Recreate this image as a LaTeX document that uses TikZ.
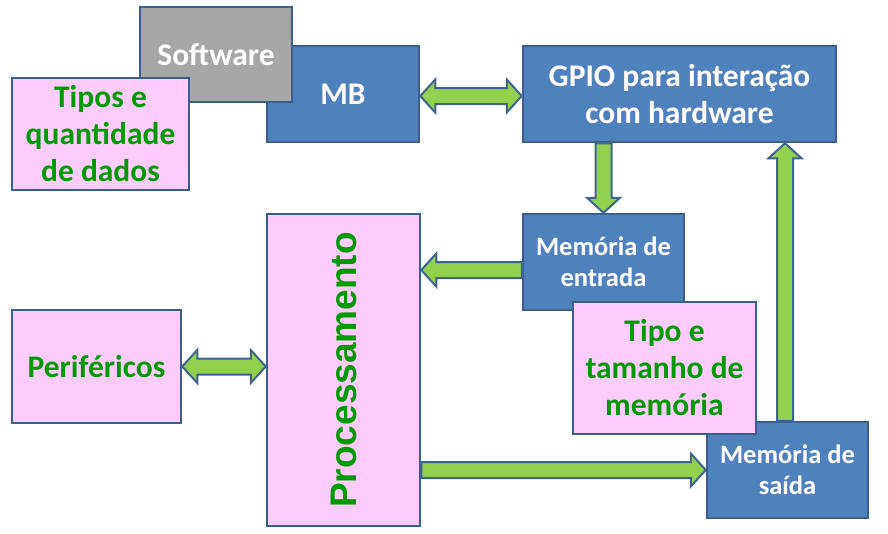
\documentclass[tikz,border=0pt]{standalone}
\usepackage{fontspec}
\setmainfont{Carlito}
\newfontfamily\arialfont{Liberation Sans}
\usetikzlibrary{calc}
\definecolor{boxblue}{HTML}{4F81BD}
\definecolor{boxline}{HTML}{3A5F8B}
\definecolor{boxgray}{HTML}{A6A6A6}
\definecolor{boxpink}{HTML}{FFCCFF}
\definecolor{txtgreen}{HTML}{009900}
\definecolor{arrgreen}{HTML}{92D050}
\definecolor{arrline}{HTML}{3E6591}
\newcommand\singlearr[2]{%
 \draw[barrow] let \p1=(#1), \p2=(#2), \n1={atan2(\y2-\y1,\x2-\x1)}, \n2={veclen(\x2-\x1,\y2-\y1)} in
 ([shift={(\p1)},rotate=\n1]0pt,8pt) --
 ([shift={(\p1)},rotate=\n1]{\n2*1pt-15pt},8pt) --
 ([shift={(\p1)},rotate=\n1]{\n2*1pt-15pt},16.5pt) --
 ([shift={(\p1)},rotate=\n1]{\n2*1pt},0pt) --
 ([shift={(\p1)},rotate=\n1]{\n2*1pt-15pt},-16.5pt) --
 ([shift={(\p1)},rotate=\n1]{\n2*1pt-15pt},-8pt) --
 ([shift={(\p1)},rotate=\n1]0pt,-8pt) -- cycle;}
\newcommand\doublearr[2]{%
 \draw[barrow] let \p1=(#1), \p2=(#2), \n1={atan2(\y2-\y1,\x2-\x1)}, \n2={veclen(\x2-\x1,\y2-\y1)} in
 ([shift={(\p1)},rotate=\n1]15pt,8pt) --
 ([shift={(\p1)},rotate=\n1]{\n2*1pt-15pt},8pt) --
 ([shift={(\p1)},rotate=\n1]{\n2*1pt-15pt},16.5pt) --
 ([shift={(\p1)},rotate=\n1]{\n2*1pt},0pt) --
 ([shift={(\p1)},rotate=\n1]{\n2*1pt-15pt},-16.5pt) --
 ([shift={(\p1)},rotate=\n1]{\n2*1pt-15pt},-8pt) --
 ([shift={(\p1)},rotate=\n1]15pt,-8pt) --
 ([shift={(\p1)},rotate=\n1]15pt,-16.5pt) --
 ([shift={(\p1)},rotate=\n1]0pt,0pt) --
 ([shift={(\p1)},rotate=\n1]15pt,16.5pt) -- cycle;}
\begin{document}
\begin{tikzpicture}[x=1pt,y=-1pt,
 box/.style={draw=boxline, line width=2.5pt, rectangle, inner sep=0pt, align=center,
   font=\bfseries\fontsize{31.5}{37}\selectfont},
 bluebox/.style={box, fill=boxblue, text=white},
 graybox/.style={box, fill=boxgray, text=white},
 pinkbox/.style={box, fill=boxpink, text=txtgreen},
 smalltext/.style={font=\bfseries\fontsize{26.5}{31}\selectfont},
 barrow/.style={draw=arrline, fill=arrgreen, line width=2pt, line join=miter}]
\useasboundingbox (0,0) rectangle (888,533);
% top-left group
\node[bluebox, minimum width=152pt, minimum height=96pt] (mb) at (343,94) {MB};
\node[graybox, minimum width=152pt, minimum height=95pt] (soft) at (216,54.5) {Software};
\node[pinkbox, minimum width=177pt, minimum height=112pt] (tipos) at (100.5,134) {Tipos e\\quantidade\\de dados};
% right column
\node[bluebox, minimum width=313pt, minimum height=96pt] (gpio) at (679.5,94) {GPIO para interação\\com hardware};
\node[bluebox, smalltext, minimum width=161pt, minimum height=96pt] (men) at (603.5,262) {Memória de\\entrada};
\node[bluebox, smalltext, minimum width=161pt, minimum height=96pt] (sai) at (787.5,470) {Memória de\\saída};
\node[pinkbox, minimum width=183pt, minimum height=132pt] (tipo) at (664.5,368) {Tipo e\\tamanho de\\memória};
% left / middle
\node[pinkbox, minimum width=153pt, minimum height=312pt] (proc) at (343.5,370) {};
\node[text=txtgreen, rotate=90, font=\arialfont\bfseries\fontsize{37}{40}\selectfont] (proctext) at (proc.center) {Processamento};
\node[pinkbox, minimum width=169pt, minimum height=113pt] (perif) at (96.5,366.5) {Periféricos};
% connectors
\coordinate (a1) at ([yshift=-2pt]mb.east);
\coordinate (a2) at (gpio.west |- a1);
\doublearr{a1}{a2}
\coordinate (b1) at (gpio.south -| men.north);
\singlearr{b1}{men.north}
\coordinate (c1) at ([yshift=-8pt]men.west);
\coordinate (c2) at (proc.east |- c1);
\singlearr{c1}{c2}
\coordinate (d1) at (proc.west |- perif.east);
\doublearr{perif.east}{d1}
\coordinate (e1) at (proc.east |- sai.west);
\singlearr{e1}{sai.west}
\coordinate (f1) at ([xshift=-2.5pt]sai.north);
\coordinate (f2) at (f1 |- gpio.south);
\singlearr{f1}{f2}
\end{tikzpicture}
\end{document}
